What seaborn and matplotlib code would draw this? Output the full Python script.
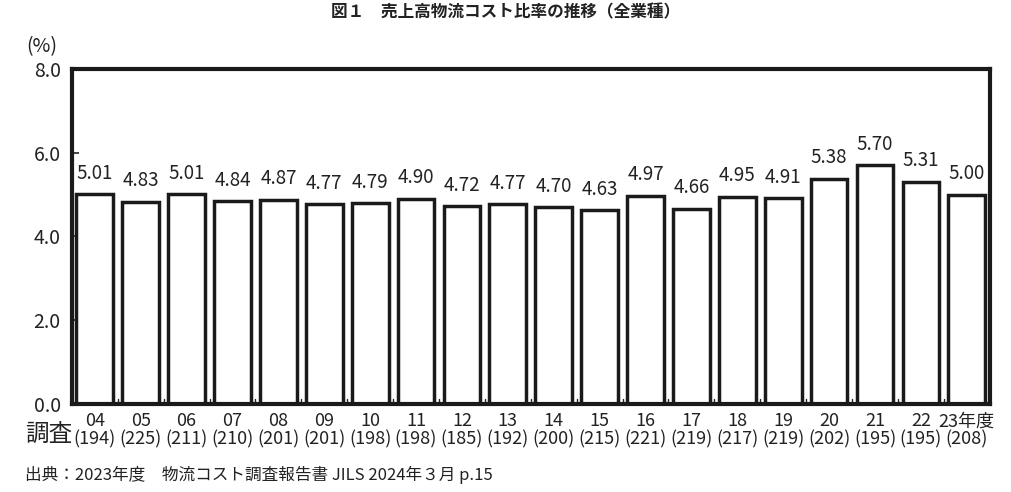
import numpy as np
import pandas as pd
import matplotlib
matplotlib.use('Agg')
import matplotlib.pyplot as plt
import seaborn as sns

# データ（売上高物流コスト比率, 全業種）
years = ['04', '05', '06', '07', '08', '09', '10', '11', '12', '13',
         '14', '15', '16', '17', '18', '19', '20', '21', '22', '23年度']
counts = [194, 225, 211, 210, 201, 201, 198, 198, 185, 192,
          200, 215, 221, 219, 217, 219, 202, 195, 195, 208]
ratios = [5.01, 4.83, 5.01, 4.84, 4.87, 4.77, 4.79, 4.90, 4.72, 4.77,
          4.70, 4.63, 4.97, 4.66, 4.95, 4.91, 5.38, 5.70, 5.31, 5.00]

df = pd.DataFrame({'year': years, 'ratio': ratios})

sns.set_theme(style='white')
plt.rcParams['font.family'] = ['Noto Sans CJK JP', 'DejaVu Sans']

fig = plt.figure(figsize=(10.12, 4.92), dpi=100)
ax = fig.add_axes([0.071, 0.179, 0.907, 0.681])

sns.barplot(data=df, x='year', y='ratio', color='white', edgecolor='#1a1a1a',
            linewidth=2.5, width=0.8, ax=ax, saturation=1)

ax.set_ylim(0, 8)
ax.set_xlim(-0.5, len(years) - 0.5)
ax.set_yticks([0, 2, 4, 6, 8])
ax.set_yticklabels(['0.0', '2.0', '4.0', '6.0', '8.0'], fontsize=14, color='#222222')
ax.tick_params(axis='y', direction='in', length=5, width=1.2, pad=8, left=True)

# x軸ラベル（年度と調査社数）
ax.set_xticks(np.arange(len(years)))
ax.set_xticklabels([f'{y}\n({c})' for y, c in zip(years, counts)],
                   fontsize=13, color='#222222', linespacing=1.0)
ax.tick_params(axis='x', length=0, pad=6)
# バーの間の小さい目盛り
for i in range(1, len(years)):
    ax.plot([i - 0.5, i - 0.5], [0, 0.12], color='#222222', lw=1)

for s in ax.spines.values():
    s.set_linewidth(3)
    s.set_color('#1a1a1a')

ax.set_xlabel('')
ax.set_ylabel('')

# 値ラベル
for i, v in enumerate(ratios):
    ax.text(i, v + 0.25, f'{v:.2f}', ha='center', va='bottom',
            fontsize=13.5, color='#222222')

fig.text(0.5, 0.975, '図１　売上高物流コスト比率の推移（全業種）', ha='center', va='center',
         fontsize=12, fontweight='bold', color='#222222')
fig.text(0.026, 0.905, '(%)', ha='left', va='center', fontsize=14, color='#222222')
fig.text(0.025, 0.118, '調査', ha='left', va='center', fontsize=17, color='#222222')
fig.text(0.025, 0.035, '出典：2023年度　物流コスト調査報告書 JILS 2024年３月 p.15',
         ha='left', va='center', fontsize=12, color='#222222')

fig.savefig('out.png', dpi=100)
